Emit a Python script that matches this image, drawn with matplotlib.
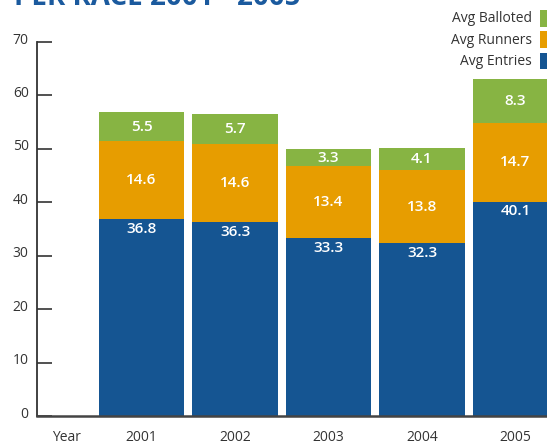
import matplotlib.pyplot as plt
import matplotlib.transforms as mtransforms
from matplotlib.patches import Rectangle

# Average field sizes per race
years = ['2001', '2002', '2003', '2004', '2005']
avg_entries = [36.8, 36.3, 33.3, 32.3, 40.1]
avg_runners = [14.6, 14.6, 13.4, 13.8, 14.7]
avg_balloted = [5.5, 5.7, 3.3, 4.1, 8.3]

blue = '#155592'
orange = '#e79d00'
green = '#87b443'
title_blue = '#1b5a9e'
dark = '#333333'

plt.rcParams['font.family'] = ['Open Sans', 'DejaVu Sans']

W, H = 547, 441
fig = plt.figure(figsize=(W / 100, H / 100), dpi=100)
ax = fig.add_axes([37 / W, 25 / H, 510 / W, 374 / H])

x = list(range(len(years)))
bar_w = 0.91
runners_base = avg_entries
balloted_base = [e + r for e, r in zip(avg_entries, avg_runners)]

ax.bar(x, avg_entries, width=bar_w, color=blue, linewidth=0)
ax.bar(x, avg_runners, width=bar_w, bottom=runners_base, color=orange, linewidth=0)
ax.bar(x, avg_balloted, width=bar_w, bottom=balloted_base, color=green, linewidth=0)

# value labels inside the segments
lbl = dict(color='white', fontsize=11, fontweight='semibold', ha='center', va='center')
for i in x:
    ax.text(i, avg_entries[i] - 1.8, f'{avg_entries[i]:.1f}', **lbl)
    ax.text(i, runners_base[i] + avg_runners[i] / 2, f'{avg_runners[i]:.1f}', **lbl)
    ax.text(i, balloted_base[i] + avg_balloted[i] / 2, f'{avg_balloted[i]:.1f}', **lbl)

ax.set_xlim(-1.118, 4.337)
ax.set_ylim(0, 70)

ax.spines['top'].set_visible(False)
ax.spines['right'].set_visible(False)
ax.spines['left'].set_color(dark)
ax.spines['left'].set_linewidth(1.3)
ax.spines['bottom'].set_color('#444444')
ax.spines['bottom'].set_linewidth(1.8)

ax.set_yticks(range(0, 71, 10))
ax.tick_params(axis='y', direction='in', length=11, width=1.2, color=dark,
               labelsize=10, labelcolor=dark, pad=6)
for t in ax.get_yticklabels():
    t.set_transform(mtransforms.offset_copy(t.get_transform(), fig=fig, x=0, y=4, units='dots'))

ax.set_xticks([-0.807] + x)
ax.set_xticklabels(['Year'] + years)
ax.tick_params(axis='x', length=0, labelsize=10, labelcolor=dark, pad=10)

# legend drawn at the top right
legend_items = [('Avg Balloted', green), ('Avg Runners', orange), ('Avg Entries', blue)]
for k, (name, col) in enumerate(legend_items):
    top = 10 + k * 21.3
    fig.add_artist(Rectangle((540 / W, 1 - (top + 16.5) / H), 20 / W, 16.5 / H,
                             transform=fig.transFigure, color=col, lw=0))
    fig.text(532 / W, 1 - (top + 9) / H, name, ha='right', va='center',
             fontsize=10, color=dark)

fig.text(14 / W, 1 - 5 / H, 'PER RACE 2001 - 2005', ha='left', va='baseline',
         fontsize=20, fontweight='bold', color=title_blue)

fig.savefig('out.png', dpi=100)
